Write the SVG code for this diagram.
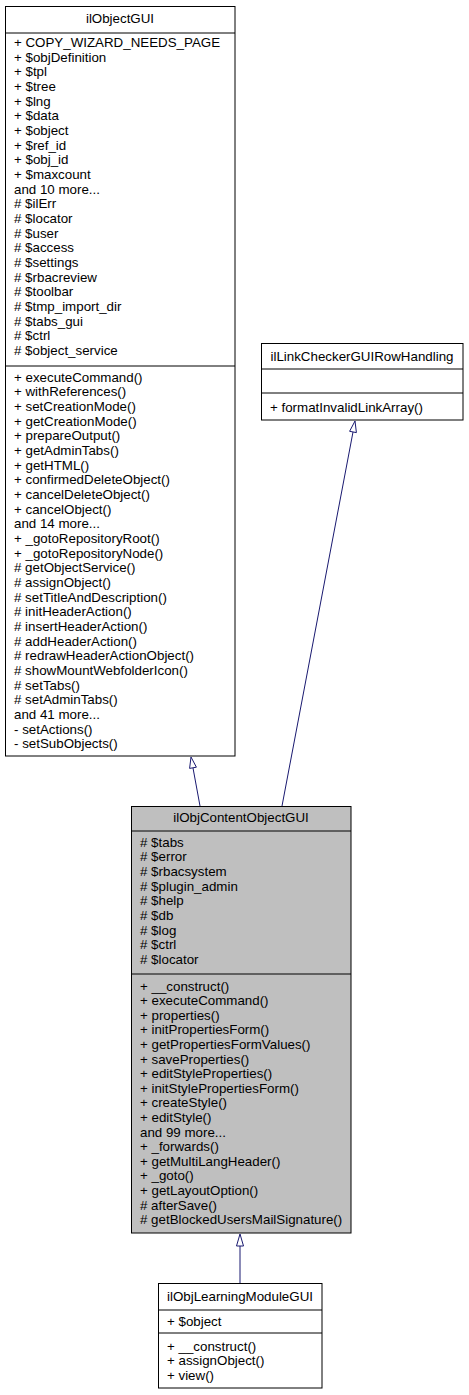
<svg xmlns="http://www.w3.org/2000/svg" width="469" height="1395" viewBox="0 0 469 1395">
<style>
text{font-family:"Liberation Sans",Arial,sans-serif;font-size:13.33px;fill:#000}
.t{text-anchor:middle}
.box{fill:#fff;stroke:#000;stroke-width:1}
.gray{fill:#bfbfbf}
.div{stroke:#000;stroke-width:1}
.edge{stroke:#191970;stroke-width:1;fill:none}
.head{fill:#fff;stroke:#191970;stroke-width:1}
</style>
<rect width="469" height="1395" fill="#fff"/>
<g id="ilObjectGUI">
<rect class="box" x="5.5" y="6.5" width="229.5" height="749.5"/>
<line class="div" x1="5.5" y1="33" x2="235" y2="33"/>
<line class="div" x1="5.5" y1="366" x2="235" y2="366"/>
<text class="t" x="120" y="23">ilObjectGUI</text>
<text x="14" y="47">+ COPY_WIZARD_NEEDS_PAGE<tspan x="14" dy="14.67">+ $objDefinition</tspan><tspan x="14" dy="14.67">+ $tpl</tspan><tspan x="14" dy="14.67">+ $tree</tspan><tspan x="14" dy="14.67">+ $lng</tspan><tspan x="14" dy="14.67">+ $data</tspan><tspan x="14" dy="14.67">+ $object</tspan><tspan x="14" dy="14.67">+ $ref_id</tspan><tspan x="14" dy="14.67">+ $obj_id</tspan><tspan x="14" dy="14.67">+ $maxcount</tspan><tspan x="14" dy="14.67">and 10 more...</tspan><tspan x="14" dy="14.67"># $ilErr</tspan><tspan x="14" dy="14.67"># $locator</tspan><tspan x="14" dy="14.67"># $user</tspan><tspan x="14" dy="14.67"># $access</tspan><tspan x="14" dy="14.67"># $settings</tspan><tspan x="14" dy="14.67"># $rbacreview</tspan><tspan x="14" dy="14.67"># $toolbar</tspan><tspan x="14" dy="14.67"># $tmp_import_dir</tspan><tspan x="14" dy="14.67"># $tabs_gui</tspan><tspan x="14" dy="14.67"># $ctrl</tspan><tspan x="14" dy="14.67"># $object_service</tspan></text>
<text x="14" y="381.5">+ executeCommand()<tspan x="14" dy="14.67">+ withReferences()</tspan><tspan x="14" dy="14.67">+ setCreationMode()</tspan><tspan x="14" dy="14.67">+ getCreationMode()</tspan><tspan x="14" dy="14.67">+ prepareOutput()</tspan><tspan x="14" dy="14.67">+ getAdminTabs()</tspan><tspan x="14" dy="14.67">+ getHTML()</tspan><tspan x="14" dy="14.67">+ confirmedDeleteObject()</tspan><tspan x="14" dy="14.67">+ cancelDeleteObject()</tspan><tspan x="14" dy="14.67">+ cancelObject()</tspan><tspan x="14" dy="14.67">and 14 more...</tspan><tspan x="14" dy="14.67">+ _gotoRepositoryRoot()</tspan><tspan x="14" dy="14.67">+ _gotoRepositoryNode()</tspan><tspan x="14" dy="14.67"># getObjectService()</tspan><tspan x="14" dy="14.67"># assignObject()</tspan><tspan x="14" dy="14.67"># setTitleAndDescription()</tspan><tspan x="14" dy="14.67"># initHeaderAction()</tspan><tspan x="14" dy="14.67"># insertHeaderAction()</tspan><tspan x="14" dy="14.67"># addHeaderAction()</tspan><tspan x="14" dy="14.67"># redrawHeaderActionObject()</tspan><tspan x="14" dy="14.67"># showMountWebfolderIcon()</tspan><tspan x="14" dy="14.67"># setTabs()</tspan><tspan x="14" dy="14.67"># setAdminTabs()</tspan><tspan x="14" dy="14.67">and 41 more...</tspan><tspan x="14" dy="14.67">- setActions()</tspan><tspan x="14" dy="14.67">- setSubObjects()</tspan></text>
</g>
<g id="ilLinkCheckerGUIRowHandling">
<rect class="box" x="261.5" y="343.5" width="201.5" height="76.5"/>
<line class="div" x1="261.5" y1="369" x2="463" y2="369"/>
<line class="div" x1="261.5" y1="393" x2="463" y2="393"/>
<text class="t" x="362" y="361">ilLinkCheckerGUIRowHandling</text>
<text x="270" y="411.5">+ formatInvalidLinkArray()</text>
</g>
<g id="ilObjContentObjectGUI">
<rect class="box gray" x="131.5" y="806.5" width="219.5" height="426.5"/>
<line class="div" x1="131.5" y1="831" x2="351" y2="831"/>
<line class="div" x1="131.5" y1="974" x2="351" y2="974"/>
<text class="t" x="241" y="821.5">ilObjContentObjectGUI</text>
<text x="140" y="846.5"># $tabs<tspan x="140" dy="14.67"># $error</tspan><tspan x="140" dy="14.67"># $rbacsystem</tspan><tspan x="140" dy="14.67"># $plugin_admin</tspan><tspan x="140" dy="14.67"># $help</tspan><tspan x="140" dy="14.67"># $db</tspan><tspan x="140" dy="14.67"># $log</tspan><tspan x="140" dy="14.67"># $ctrl</tspan><tspan x="140" dy="14.67"># $locator</tspan></text>
<text x="140" y="990.5">+ __construct()<tspan x="140" dy="14.6">+ executeCommand()</tspan><tspan x="140" dy="14.6">+ properties()</tspan><tspan x="140" dy="14.6">+ initPropertiesForm()</tspan><tspan x="140" dy="14.6">+ getPropertiesFormValues()</tspan><tspan x="140" dy="14.6">+ saveProperties()</tspan><tspan x="140" dy="14.6">+ editStyleProperties()</tspan><tspan x="140" dy="14.6">+ initStylePropertiesForm()</tspan><tspan x="140" dy="14.6">+ createStyle()</tspan><tspan x="140" dy="14.6">+ editStyle()</tspan><tspan x="140" dy="14.6">and 99 more...</tspan><tspan x="140" dy="14.6">+ _forwards()</tspan><tspan x="140" dy="14.6">+ getMultiLangHeader()</tspan><tspan x="140" dy="14.6">+ _goto()</tspan><tspan x="140" dy="14.6">+ getLayoutOption()</tspan><tspan x="140" dy="14.6"># afterSave()</tspan><tspan x="140" dy="14.6"># getBlockedUsersMailSignature()</tspan></text>
</g>
<g id="ilObjLearningModuleGUI">
<rect class="box" x="158.5" y="1283.5" width="163.5" height="104.5"/>
<line class="div" x1="158.5" y1="1310" x2="322" y2="1310"/>
<line class="div" x1="158.5" y1="1333" x2="322" y2="1333"/>
<text class="t" x="240" y="1300.5">ilObjLearningModuleGUI</text>
<text x="167" y="1325.5">+ $object</text>
<text x="167" y="1350.5">+ __construct()<tspan x="167" dy="14.67">+ assignObject()</tspan><tspan x="167" dy="14.67">+ view()</tspan></text>
</g>
<g id="connectors">
<line class="edge" x1="200" y1="806" x2="193" y2="768"/>
<polygon class="head" points="191,757 196.4,767.2 189.6,768.4"/>
<line class="edge" x1="282" y1="806" x2="353" y2="432"/>
<polygon class="head" points="355,421 356.4,432.6 349.6,431.3"/>
<line class="edge" x1="240" y1="1283" x2="240" y2="1246"/>
<polygon class="head" points="240,1234 243.5,1246 236.5,1246"/>
</g>
</svg>
